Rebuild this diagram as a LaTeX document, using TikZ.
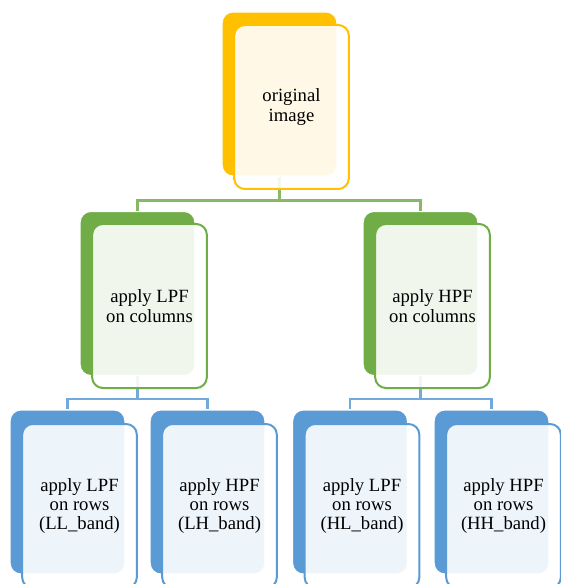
\documentclass[tikz,border=0pt]{standalone}
\usepackage{fontspec}
\setmainfont{Liberation Serif}

\definecolor{ofYellow}{RGB}{255,192,0}
\definecolor{ofGreen}{RGB}{112,173,71}
\definecolor{ofBlue}{RGB}{91,155,213}

\tikzset{
  cardback/.style={draw=white, line width=0.8pt, fill=#1, rounded corners=8pt,
    minimum width=86pt, minimum height=123pt, inner sep=0pt},
  cardfront/.style={draw=#1, line width=1.5pt, fill=white, fill opacity=0.9,
    text opacity=1, rounded corners=8pt, minimum width=86pt, minimum height=123pt,
    inner sep=0pt, align=center, font=\fontsize{14}{14.5}\selectfont},
  branch/.style={draw=#1!85!white, line width=1.7pt}
}

\begin{document}
\begin{tikzpicture}[x=0.75pt,y=0.75pt,yscale=-1,xscale=1]
\fill[white] (0,0) rectangle (560,584);
\useasboundingbox (0,0) rectangle (560,584);

% back cards
\node[cardback=ofYellow] (orig) at (279.5,94) {};
\node[cardback=ofGreen] (lpfc) at (137.5,293.5) {};
\node[cardback=ofGreen] (hpfc) at (420.5,293.5) {};
\node[cardback=ofBlue] (ll) at (67.5,492) {};
\node[cardback=ofBlue] (lh) at (207.5,492) {};
\node[cardback=ofBlue] (hl) at (350,492) {};
\node[cardback=ofBlue] (hh) at (491.5,492) {};

% connectors
\draw[branch=ofGreen] (orig.south) -- ++(0,24) coordinate (origjoin) -| (lpfc.north);
\draw[branch=ofGreen] (origjoin) -| (hpfc.north);
\draw[branch=ofBlue] (lpfc.south) -- ++(0,23) coordinate (lpfcjoin) -| (ll.north);
\draw[branch=ofBlue] (lpfcjoin) -| (lh.north);
\draw[branch=ofBlue] (hpfc.south) -- ++(0,23) coordinate (hpfcjoin) -| (hl.north);
\draw[branch=ofBlue] (hpfcjoin) -| (hh.north);

% front cards
\node[cardfront=ofYellow] (origf) at (291.5,107) {original\\image};
\node[cardfront=ofGreen] (lpfcf) at (149.5,306) {apply LPF\\on columns};
\node[cardfront=ofGreen] (hpfcf) at (432.5,306) {apply HPF\\on columns};
\node[cardfront=ofBlue] (llf) at (79.5,506) {apply LPF\\on rows\\(LL\_band)};
\node[cardfront=ofBlue] (lhf) at (219.5,506) {apply HPF\\on rows\\(LH\_band)};
\node[cardfront=ofBlue] (hlf) at (362,506) {apply LPF\\on rows\\(HL\_band)};
\node[cardfront=ofBlue] (hhf) at (503.5,506) {apply HPF\\on rows\\(HH\_band)};

\end{tikzpicture}
\end{document}
